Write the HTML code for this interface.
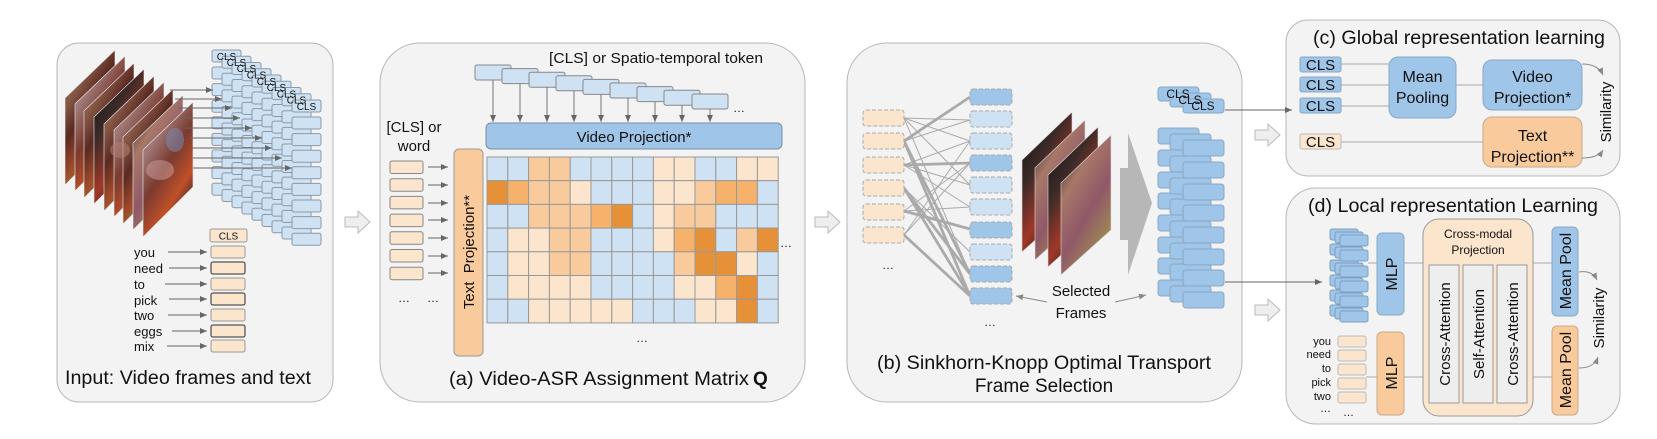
<!DOCTYPE html>
<html><head><meta charset="utf-8"><style>
html,body{margin:0;padding:0;background:#fff}
svg{display:block}
text{font-family:"Liberation Sans",Arial,sans-serif;fill:#111}
</style></head><body>
<svg width="1657" height="439" viewBox="0 0 1657 439" xmlns="http://www.w3.org/2000/svg">
<defs>
<marker id="ah" markerWidth="8" markerHeight="8" refX="7" refY="3" orient="auto" markerUnits="userSpaceOnUse"><path d="M0,0 L7,3 L0,6 z" fill="#666"/></marker>
<marker id="ah2" markerWidth="8" markerHeight="8" refX="7" refY="3" orient="auto" markerUnits="userSpaceOnUse"><path d="M0,0 L7,3 L0,6 z" fill="#888"/></marker>
<linearGradient id="f1" x1="0" y1="0" x2="0.6" y2="1"><stop offset="0" stop-color="#4a3028"/><stop offset=".3" stop-color="#8a5a48"/><stop offset=".5" stop-color="#5a2a22"/><stop offset=".7" stop-color="#a04a2a"/><stop offset=".85" stop-color="#8a7a30"/><stop offset="1" stop-color="#2a1a20"/></linearGradient>
<linearGradient id="f2" x1="0" y1="0" x2="0.6" y2="1"><stop offset="0" stop-color="#6a7088"/><stop offset=".3" stop-color="#a07a78"/><stop offset=".55" stop-color="#7a3a30"/><stop offset=".8" stop-color="#c05028"/><stop offset="1" stop-color="#30202a"/></linearGradient>
<linearGradient id="f3" x1="0" y1="0" x2="0.6" y2="1"><stop offset="0" stop-color="#111"/><stop offset=".4" stop-color="#3a2a28"/><stop offset=".7" stop-color="#a03828"/><stop offset="1" stop-color="#201818"/></linearGradient>
<linearGradient id="f4" x1="0" y1="0" x2="0.6" y2="1"><stop offset="0" stop-color="#151515"/><stop offset=".35" stop-color="#a87868"/><stop offset=".65" stop-color="#905868"/><stop offset="1" stop-color="#a09050"/></linearGradient>
<g id="col">
<rect x="212" y="50" width="29" height="12" rx="2" fill="#cfe2f3" stroke="#8a99a8"/>
<rect x="212" y="67" width="29" height="12" rx="2" fill="#cfe2f3" stroke="#8a99a8"/>
<rect x="212" y="83.6" width="29" height="12" rx="2" fill="#cfe2f3" stroke="#8a99a8"/>
<rect x="212" y="100.2" width="29" height="12" rx="2" fill="#cfe2f3" stroke="#8a99a8"/>
<rect x="212" y="116.8" width="29" height="12" rx="2" fill="#cfe2f3" stroke="#8a99a8"/>
<rect x="212" y="133.4" width="29" height="12" rx="2" fill="#cfe2f3" stroke="#8a99a8"/>
<rect x="212" y="150" width="29" height="12" rx="2" fill="#cfe2f3" stroke="#8a99a8"/>
<rect x="212" y="166.6" width="29" height="12" rx="2" fill="#cfe2f3" stroke="#8a99a8"/>
<rect x="212" y="183.2" width="29" height="12" rx="2" fill="#cfe2f3" stroke="#8a99a8"/>
</g>
<g id="rcol">
<rect x="1158" y="128" width="41" height="16" rx="3" fill="#9fc5e8" stroke="#8aa8c4"/>
<rect x="1158" y="150" width="41" height="16" rx="3" fill="#9fc5e8" stroke="#8aa8c4"/>
<rect x="1158" y="172" width="41" height="16" rx="3" fill="#9fc5e8" stroke="#8aa8c4"/>
<rect x="1158" y="193" width="41" height="16" rx="3" fill="#9fc5e8" stroke="#8aa8c4"/>
<rect x="1158" y="215" width="41" height="16" rx="3" fill="#9fc5e8" stroke="#8aa8c4"/>
<rect x="1158" y="237" width="41" height="16" rx="3" fill="#9fc5e8" stroke="#8aa8c4"/>
<rect x="1158" y="258" width="41" height="16" rx="3" fill="#9fc5e8" stroke="#8aa8c4"/>
<rect x="1158" y="280" width="41" height="16" rx="3" fill="#9fc5e8" stroke="#8aa8c4"/>
</g>
<g id="scol">
<rect x="1330" y="229" width="28" height="11" rx="2" fill="#9fc5e8" stroke="#7f9fbf"/>
<rect x="1330" y="244" width="28" height="11" rx="2" fill="#9fc5e8" stroke="#7f9fbf"/>
<rect x="1330" y="260" width="28" height="11" rx="2" fill="#9fc5e8" stroke="#7f9fbf"/>
<rect x="1330" y="275" width="28" height="11" rx="2" fill="#9fc5e8" stroke="#7f9fbf"/>
<rect x="1330" y="290" width="28" height="11" rx="2" fill="#9fc5e8" stroke="#7f9fbf"/>
<rect x="1330" y="305" width="28" height="11" rx="2" fill="#9fc5e8" stroke="#7f9fbf"/>
</g>
<g id="hollow"><path d="M0,-5 L13,-5 L13,-11 L25,0 L13,11 L13,5 L0,5 z" fill="#eee" stroke="#bbb"/></g>
</defs>

<rect x="57" y="43" width="276" height="359" rx="22" fill="#f3f3f3" stroke="#b7b7b7"/>
<rect x="380" y="43" width="425" height="359" rx="40" fill="#f3f3f3" stroke="#b7b7b7"/>
<rect x="847" y="43" width="395" height="359" rx="40" fill="#f3f3f3" stroke="#b7b7b7"/>
<rect x="1286" y="20" width="334" height="156" rx="22" fill="#f3f3f3" stroke="#b7b7b7"/>
<rect x="1286" y="188" width="334" height="236" rx="30" fill="#f3f3f3" stroke="#b7b7b7"/>

<use href="#hollow" x="345" y="222"/>
<use href="#hollow" x="815" y="222"/>
<use href="#hollow" x="1255" y="135"/>
<use href="#hollow" x="1255" y="310"/>

<g stroke="#eee" stroke-width="0.6">
<polygon points="65,98 115,50 115,135 65,185" fill="url(#f1)"/>
<polygon points="75,104 125,56 125,141 75,191" fill="url(#f2)"/>
<polygon points="84,111 134,63 134,148 84,198" fill="url(#f1)"/>
<polygon points="94,117 144,69 144,154 94,204" fill="url(#f3)"/>
<polygon points="104,124 154,76 154,161 104,211" fill="url(#f1)"/>
<polygon points="114,130 164,82 164,167 114,217" fill="url(#f2)"/>
<polygon points="123,137 173,89 173,174 123,224" fill="url(#f1)"/>
<polygon points="133,143 183,95 183,180 133,230" fill="url(#f4)"/>
<polygon points="143,150 193,102 193,187 143,237" fill="url(#f2)"/>
</g>
<g opacity="0.55">
<ellipse cx="160" cy="170" rx="14" ry="10" fill="#c89a98"/>
<ellipse cx="120" cy="150" rx="10" ry="8" fill="#b08070"/>
<ellipse cx="175" cy="140" rx="9" ry="12" fill="#7a8ab0"/>
</g>
<use href="#col"/>
<use href="#col" transform="translate(10,6.25)"/>
<use href="#col" transform="translate(20,12.5)"/>
<use href="#col" transform="translate(30,18.75)"/>
<use href="#col" transform="translate(40,25)"/>
<use href="#col" transform="translate(50,31.25)"/>
<use href="#col" transform="translate(60,37.5)"/>
<use href="#col" transform="translate(70,43.75)"/>
<use href="#col" transform="translate(80,50)"/>
<g font-size="10" text-anchor="middle">
<text x="226.5" y="60">CLS</text><text x="236.5" y="66">CLS</text><text x="246.5" y="72">CLS</text><text x="256.5" y="78.5">CLS</text><text x="266.5" y="85">CLS</text><text x="276.5" y="91">CLS</text><text x="286.5" y="97.5">CLS</text><text x="296.5" y="103.5">CLS</text><text x="306.5" y="110">CLS</text>
</g>
<g stroke="#666" stroke-width="1" marker-end="url(#ah)">
<line x1="170" y1="90" x2="213" y2="90"/>
<line x1="175" y1="99" x2="222" y2="99"/>
<line x1="178" y1="108" x2="232" y2="108"/>
<line x1="183" y1="118" x2="240" y2="118"/>
<line x1="185" y1="128" x2="252" y2="128"/>
<line x1="190" y1="138" x2="262" y2="138"/>
<line x1="192" y1="148" x2="272" y2="148"/>
<line x1="193" y1="158" x2="282" y2="158"/>
<line x1="193" y1="168" x2="292" y2="168"/>
</g>
<rect x="210" y="229" width="37" height="13" rx="2" fill="#fce5cd" stroke="#999"/>
<text x="228.5" y="239.5" font-size="10" text-anchor="middle">CLS</text>
<g fill="#fce5cd">
<rect x="211" y="246" width="34" height="12" rx="2" stroke="#999"/>
<rect x="211" y="262" width="34" height="12" rx="2" stroke="#555" stroke-width="1.3"/>
<rect x="211" y="278" width="34" height="12" rx="2" stroke="#999"/>
<rect x="211" y="293" width="34" height="12" rx="2" stroke="#555" stroke-width="1.3"/>
<rect x="211" y="309" width="34" height="12" rx="2" stroke="#999"/>
<rect x="211" y="325" width="34" height="12" rx="2" stroke="#555" stroke-width="1.3"/>
<rect x="211" y="340" width="34" height="12" rx="2" stroke="#999"/>
</g>
<g font-size="13">
<text x="134" y="257">you</text><text x="134" y="273">need</text><text x="134" y="289">to</text><text x="134" y="305">pick</text><text x="134" y="320">two</text><text x="134" y="336">eggs</text><text x="134" y="351">mix</text>
</g>
<g stroke="#666" marker-end="url(#ah)">
<line x1="168" y1="252" x2="207" y2="252"/><line x1="169" y1="268" x2="207" y2="268"/><line x1="165" y1="284" x2="207" y2="284"/><line x1="169" y1="299" x2="207" y2="299"/><line x1="168" y1="315" x2="207" y2="315"/><line x1="172" y1="331" x2="207" y2="331"/><line x1="167" y1="346" x2="207" y2="346"/>
</g>
<text x="65" y="384" font-size="19" textLength="246" lengthAdjust="spacingAndGlyphs">Input: Video frames and text</text>

<text x="549" y="63" font-size="15" textLength="214" lengthAdjust="spacingAndGlyphs">[CLS] or Spatio-temporal token</text>
<g fill="#cfe2f3" stroke="#888">
<rect x="475" y="65" width="36" height="15" rx="2"/>
<rect x="502" y="68.6" width="36" height="15" rx="2"/>
<rect x="529" y="72.2" width="36" height="15" rx="2"/>
<rect x="556" y="75.8" width="36" height="15" rx="2"/>
<rect x="583" y="79.4" width="36" height="15" rx="2"/>
<rect x="610" y="83" width="36" height="15" rx="2"/>
<rect x="637" y="86.6" width="36" height="15" rx="2"/>
<rect x="664" y="90.2" width="36" height="15" rx="2"/>
<rect x="692" y="94" width="36" height="15" rx="2"/>
</g>
<g stroke="#777" marker-end="url(#ah)">
<line x1="493" y1="80" x2="493" y2="122"/><line x1="520" y1="84" x2="520" y2="122"/><line x1="547" y1="87" x2="547" y2="122"/><line x1="574" y1="91" x2="574" y2="122"/><line x1="601" y1="94" x2="601" y2="122"/><line x1="628" y1="98" x2="628" y2="122"/><line x1="655" y1="102" x2="655" y2="122"/><line x1="682" y1="105" x2="682" y2="122"/><line x1="710" y1="109" x2="710" y2="122"/>
</g>
<text x="733" y="112" font-size="12">…</text>
<rect x="486" y="123" width="296" height="26" rx="5" fill="#9fc5e8" stroke="#7a8fa3"/>
<text x="634" y="142" font-size="15" text-anchor="middle">Video Projection*</text>
<text x="414" y="132" font-size="15" text-anchor="middle">[CLS] or</text>
<text x="414" y="151" font-size="15" text-anchor="middle">word</text>
<rect x="454" y="149" width="29" height="207" rx="5" fill="#f9cb9c" stroke="#999"/>
<text transform="translate(474,252) rotate(-90)" font-size="15" text-anchor="middle" xml:space="preserve">Text  Projection**</text>
<g fill="#fce5cd" stroke="#888">
<rect x="390" y="161" width="33" height="12.5" rx="2"/><rect x="390" y="178.7" width="33" height="12.5" rx="2"/><rect x="390" y="196.4" width="33" height="12.5" rx="2"/><rect x="390" y="214.1" width="33" height="12.5" rx="2"/><rect x="390" y="231.8" width="33" height="12.5" rx="2"/><rect x="390" y="249.5" width="33" height="12.5" rx="2"/><rect x="390" y="267.2" width="33" height="12.5" rx="2"/>
</g>
<g stroke="#666" marker-end="url(#ah)">
<line x1="428" y1="167" x2="448" y2="167"/><line x1="428" y1="185" x2="448" y2="185"/><line x1="428" y1="203" x2="448" y2="203"/><line x1="428" y1="220" x2="448" y2="220"/><line x1="428" y1="238" x2="448" y2="238"/><line x1="428" y1="256" x2="448" y2="256"/><line x1="428" y1="273" x2="448" y2="273"/>
</g>
<text x="398" y="302" font-size="12">…</text><text x="427" y="302" font-size="12">…</text>
<g stroke="#999" stroke-width="1">
<rect x="487" y="157" width="20.8" height="23.7" fill="#cfe2f3"/><rect x="507.8" y="157" width="20.8" height="23.7" fill="#cfe2f3"/><rect x="528.6" y="157" width="20.8" height="23.7" fill="#f9cb9c"/><rect x="549.4" y="157" width="20.8" height="23.7" fill="#f9cb9c"/><rect x="570.2" y="157" width="20.8" height="23.7" fill="#cfe2f3"/><rect x="591" y="157" width="20.8" height="23.7" fill="#cfe2f3"/><rect x="611.8" y="157" width="20.8" height="23.7" fill="#cfe2f3"/><rect x="632.6" y="157" width="20.8" height="23.7" fill="#cfe2f3"/><rect x="653.4" y="157" width="20.8" height="23.7" fill="#fce5cd"/><rect x="674.2" y="157" width="20.8" height="23.7" fill="#fce5cd"/><rect x="695" y="157" width="20.8" height="23.7" fill="#cfe2f3"/><rect x="715.8" y="157" width="20.8" height="23.7" fill="#cfe2f3"/><rect x="736.6" y="157" width="20.8" height="23.7" fill="#fce5cd"/><rect x="757.4" y="157" width="20.8" height="23.7" fill="#fce5cd"/>
<rect x="487" y="180.7" width="20.8" height="23.7" fill="#e69138"/><rect x="507.8" y="180.7" width="20.8" height="23.7" fill="#f6b26b"/><rect x="528.6" y="180.7" width="20.8" height="23.7" fill="#f9cb9c"/><rect x="549.4" y="180.7" width="20.8" height="23.7" fill="#f9cb9c"/><rect x="570.2" y="180.7" width="20.8" height="23.7" fill="#fce5cd"/><rect x="591" y="180.7" width="20.8" height="23.7" fill="#cfe2f3"/><rect x="611.8" y="180.7" width="20.8" height="23.7" fill="#cfe2f3"/><rect x="632.6" y="180.7" width="20.8" height="23.7" fill="#cfe2f3"/><rect x="653.4" y="180.7" width="20.8" height="23.7" fill="#fce5cd"/><rect x="674.2" y="180.7" width="20.8" height="23.7" fill="#fce5cd"/><rect x="695" y="180.7" width="20.8" height="23.7" fill="#f9cb9c"/><rect x="715.8" y="180.7" width="20.8" height="23.7" fill="#f6b26b"/><rect x="736.6" y="180.7" width="20.8" height="23.7" fill="#f6b26b"/><rect x="757.4" y="180.7" width="20.8" height="23.7" fill="#cfe2f3"/>
<rect x="487" y="204.4" width="20.8" height="23.7" fill="#cfe2f3"/><rect x="507.8" y="204.4" width="20.8" height="23.7" fill="#cfe2f3"/><rect x="528.6" y="204.4" width="20.8" height="23.7" fill="#f9cb9c"/><rect x="549.4" y="204.4" width="20.8" height="23.7" fill="#f9cb9c"/><rect x="570.2" y="204.4" width="20.8" height="23.7" fill="#f9cb9c"/><rect x="591" y="204.4" width="20.8" height="23.7" fill="#f6b26b"/><rect x="611.8" y="204.4" width="20.8" height="23.7" fill="#e69138"/><rect x="632.6" y="204.4" width="20.8" height="23.7" fill="#cfe2f3"/><rect x="653.4" y="204.4" width="20.8" height="23.7" fill="#fce5cd"/><rect x="674.2" y="204.4" width="20.8" height="23.7" fill="#f9cb9c"/><rect x="695" y="204.4" width="20.8" height="23.7" fill="#f9cb9c"/><rect x="715.8" y="204.4" width="20.8" height="23.7" fill="#cfe2f3"/><rect x="736.6" y="204.4" width="20.8" height="23.7" fill="#cfe2f3"/><rect x="757.4" y="204.4" width="20.8" height="23.7" fill="#cfe2f3"/>
<rect x="487" y="228.1" width="20.8" height="23.7" fill="#cfe2f3"/><rect x="507.8" y="228.1" width="20.8" height="23.7" fill="#fce5cd"/><rect x="528.6" y="228.1" width="20.8" height="23.7" fill="#fce5cd"/><rect x="549.4" y="228.1" width="20.8" height="23.7" fill="#f9cb9c"/><rect x="570.2" y="228.1" width="20.8" height="23.7" fill="#f9cb9c"/><rect x="591" y="228.1" width="20.8" height="23.7" fill="#cfe2f3"/><rect x="611.8" y="228.1" width="20.8" height="23.7" fill="#cfe2f3"/><rect x="632.6" y="228.1" width="20.8" height="23.7" fill="#cfe2f3"/><rect x="653.4" y="228.1" width="20.8" height="23.7" fill="#fce5cd"/><rect x="674.2" y="228.1" width="20.8" height="23.7" fill="#f6b26b"/><rect x="695" y="228.1" width="20.8" height="23.7" fill="#e69138"/><rect x="715.8" y="228.1" width="20.8" height="23.7" fill="#cfe2f3"/><rect x="736.6" y="228.1" width="20.8" height="23.7" fill="#f9cb9c"/><rect x="757.4" y="228.1" width="20.8" height="23.7" fill="#e69138"/>
<rect x="487" y="251.8" width="20.8" height="23.7" fill="#cfe2f3"/><rect x="507.8" y="251.8" width="20.8" height="23.7" fill="#fce5cd"/><rect x="528.6" y="251.8" width="20.8" height="23.7" fill="#fce5cd"/><rect x="549.4" y="251.8" width="20.8" height="23.7" fill="#f9cb9c"/><rect x="570.2" y="251.8" width="20.8" height="23.7" fill="#f9cb9c"/><rect x="591" y="251.8" width="20.8" height="23.7" fill="#cfe2f3"/><rect x="611.8" y="251.8" width="20.8" height="23.7" fill="#cfe2f3"/><rect x="632.6" y="251.8" width="20.8" height="23.7" fill="#cfe2f3"/><rect x="653.4" y="251.8" width="20.8" height="23.7" fill="#cfe2f3"/><rect x="674.2" y="251.8" width="20.8" height="23.7" fill="#f9cb9c"/><rect x="695" y="251.8" width="20.8" height="23.7" fill="#e69138"/><rect x="715.8" y="251.8" width="20.8" height="23.7" fill="#e69138"/><rect x="736.6" y="251.8" width="20.8" height="23.7" fill="#fce5cd"/><rect x="757.4" y="251.8" width="20.8" height="23.7" fill="#cfe2f3"/>
<rect x="487" y="275.5" width="20.8" height="23.7" fill="#cfe2f3"/><rect x="507.8" y="275.5" width="20.8" height="23.7" fill="#fce5cd"/><rect x="528.6" y="275.5" width="20.8" height="23.7" fill="#fce5cd"/><rect x="549.4" y="275.5" width="20.8" height="23.7" fill="#fce5cd"/><rect x="570.2" y="275.5" width="20.8" height="23.7" fill="#fce5cd"/><rect x="591" y="275.5" width="20.8" height="23.7" fill="#cfe2f3"/><rect x="611.8" y="275.5" width="20.8" height="23.7" fill="#cfe2f3"/><rect x="632.6" y="275.5" width="20.8" height="23.7" fill="#cfe2f3"/><rect x="653.4" y="275.5" width="20.8" height="23.7" fill="#cfe2f3"/><rect x="674.2" y="275.5" width="20.8" height="23.7" fill="#fce5cd"/><rect x="695" y="275.5" width="20.8" height="23.7" fill="#fce5cd"/><rect x="715.8" y="275.5" width="20.8" height="23.7" fill="#f6b26b"/><rect x="736.6" y="275.5" width="20.8" height="23.7" fill="#e69138"/><rect x="757.4" y="275.5" width="20.8" height="23.7" fill="#cfe2f3"/>
<rect x="487" y="299.2" width="20.8" height="23.7" fill="#cfe2f3"/><rect x="507.8" y="299.2" width="20.8" height="23.7" fill="#cfe2f3"/><rect x="528.6" y="299.2" width="20.8" height="23.7" fill="#fce5cd"/><rect x="549.4" y="299.2" width="20.8" height="23.7" fill="#fce5cd"/><rect x="570.2" y="299.2" width="20.8" height="23.7" fill="#fce5cd"/><rect x="591" y="299.2" width="20.8" height="23.7" fill="#fce5cd"/><rect x="611.8" y="299.2" width="20.8" height="23.7" fill="#fce5cd"/><rect x="632.6" y="299.2" width="20.8" height="23.7" fill="#cfe2f3"/><rect x="653.4" y="299.2" width="20.8" height="23.7" fill="#cfe2f3"/><rect x="674.2" y="299.2" width="20.8" height="23.7" fill="#cfe2f3"/><rect x="695" y="299.2" width="20.8" height="23.7" fill="#fce5cd"/><rect x="715.8" y="299.2" width="20.8" height="23.7" fill="#fce5cd"/><rect x="736.6" y="299.2" width="20.8" height="23.7" fill="#e69138"/><rect x="757.4" y="299.2" width="20.8" height="23.7" fill="#cfe2f3"/>
</g>
<text x="780" y="247" font-size="12">…</text>
<text x="636" y="342" font-size="12">…</text>
<text x="449" y="385" font-size="19" textLength="300" lengthAdjust="spacingAndGlyphs">(a) Video-ASR Assignment Matrix</text>
<text x="753" y="385" font-size="19" font-weight="bold" font-family="Liberation Serif">Q</text>

<g stroke="#aaa" stroke-width="1">
<line x1="904" y1="118" x2="970" y2="120"/><line x1="904" y1="118" x2="970" y2="141"/><line x1="904" y1="118" x2="970" y2="185"/><line x1="904" y1="118" x2="970" y2="274"/>
<line x1="904" y1="141" x2="970" y2="120"/>
<line x1="904" y1="165" x2="970" y2="141"/><line x1="904" y1="165" x2="970" y2="185"/><line x1="904" y1="165" x2="970" y2="207"/>
<line x1="904" y1="188" x2="970" y2="252"/>
<line x1="904" y1="211" x2="970" y2="207"/><line x1="904" y1="211" x2="970" y2="163"/>
<line x1="904" y1="235" x2="970" y2="163"/><line x1="904" y1="235" x2="970" y2="141"/>
</g>
<g stroke="#aaa" stroke-width="2.8">
<line x1="904" y1="141" x2="970" y2="97"/><line x1="904" y1="141" x2="970" y2="274"/><line x1="904" y1="141" x2="970" y2="296"/>
<line x1="904" y1="165" x2="970" y2="163"/>
<line x1="904" y1="188" x2="970" y2="296"/><line x1="904" y1="188" x2="970" y2="274"/>
<line x1="904" y1="211" x2="970" y2="229"/>
<line x1="904" y1="235" x2="970" y2="296"/>
</g>
<g stroke="#aaa" stroke-dasharray="4,2" fill="#fce5cd">
<rect x="863" y="110" width="41" height="16" rx="3"/><rect x="863" y="133" width="41" height="16" rx="3"/><rect x="863" y="157" width="41" height="16" rx="3"/><rect x="863" y="180" width="41" height="16" rx="3"/><rect x="863" y="204" width="41" height="16" rx="3"/><rect x="863" y="227" width="41" height="16" rx="3"/>
</g>
<g stroke="#aaa" stroke-dasharray="4,2">
<rect x="970" y="89" width="42" height="16" rx="3" fill="#9fc5e8"/><rect x="970" y="111" width="42" height="16" rx="3" fill="#cfe2f3"/><rect x="970" y="133" width="42" height="16" rx="3" fill="#cfe2f3"/><rect x="970" y="155" width="42" height="16" rx="3" fill="#9fc5e8"/><rect x="970" y="177" width="42" height="16" rx="3" fill="#cfe2f3"/><rect x="970" y="199" width="42" height="16" rx="3" fill="#cfe2f3"/><rect x="970" y="222" width="42" height="16" rx="3" fill="#9fc5e8"/><rect x="970" y="244" width="42" height="16" rx="3" fill="#cfe2f3"/><rect x="970" y="266" width="42" height="16" rx="3" fill="#9fc5e8"/><rect x="970" y="288" width="42" height="16" rx="3" fill="#9fc5e8"/>
</g>
<text x="882" y="269" font-size="12">…</text>
<text x="984" y="326" font-size="12">…</text>
<g stroke="#ddd" stroke-width="0.6">
<polygon points="1022,160 1072,112 1072,207 1022,252" fill="url(#f3)"/>
<polygon points="1035,168 1085,120 1085,215 1035,260" fill="url(#f4)"/>
<polygon points="1048,175 1098,127 1098,222 1048,267" fill="url(#f3)"/>
<polygon points="1061,183 1111,135 1111,230 1061,275" fill="url(#f4)"/>
</g>
<polygon points="1120,168 1128,168 1128,133 1152,203 1128,275 1128,240 1120,240" fill="#b7b7b7"/>
<text x="1081" y="296" font-size="15" text-anchor="middle">Selected</text>
<text x="1081" y="318" font-size="15" text-anchor="middle">Frames</text>
<line x1="1047" y1="302" x2="1016" y2="296" stroke="#888" marker-end="url(#ah2)"/>
<line x1="1115" y1="302" x2="1146" y2="295" stroke="#888" marker-end="url(#ah2)"/>
<text x="877" y="369" font-size="19" textLength="334" lengthAdjust="spacingAndGlyphs">(b) Sinkhorn-Knopp Optimal Transport</text>
<text x="1044" y="392" font-size="19" text-anchor="middle">Frame Selection</text>
<g fill="#9fc5e8" stroke="#8aa8c4">
<rect x="1158" y="87" width="41" height="14" rx="3"/><rect x="1170" y="93" width="41" height="14" rx="3"/><rect x="1183" y="99" width="41" height="14" rx="3"/>
</g>
<g font-size="12" text-anchor="middle"><text x="1178" y="98">CLS</text><text x="1190" y="104">CLS</text><text x="1203" y="110">CLS</text></g>
<use href="#rcol"/>
<use href="#rcol" transform="translate(12,6)"/>
<use href="#rcol" transform="translate(25,12)"/>
<line x1="1225" y1="110" x2="1292" y2="110" stroke="#666" marker-end="url(#ah)"/>
<line x1="1225" y1="282" x2="1322" y2="282" stroke="#666" marker-end="url(#ah)"/>

<text x="1313" y="44" font-size="19" textLength="292" lengthAdjust="spacingAndGlyphs">(c) Global representation learning</text>
<g stroke="#aaa"><line x1="1341" y1="64" x2="1389" y2="64"/><line x1="1341" y1="85" x2="1389" y2="85"/><line x1="1341" y1="106" x2="1389" y2="106"/><line x1="1456" y1="85" x2="1483" y2="85"/><line x1="1341" y1="142" x2="1483" y2="142"/></g>
<g stroke="#8aa8c4" fill="#9fc5e8"><rect x="1300" y="57" width="41" height="15" rx="2"/><rect x="1300" y="77" width="41" height="15" rx="2"/><rect x="1300" y="98" width="41" height="15" rx="2"/></g>
<rect x="1300" y="134" width="41" height="15" rx="2" fill="#fce5cd" stroke="#bbb"/>
<g font-size="15" text-anchor="middle"><text x="1320.5" y="70">CLS</text><text x="1320.5" y="90">CLS</text><text x="1320.5" y="111">CLS</text><text x="1320.5" y="147">CLS</text></g>
<rect x="1389" y="57" width="67" height="61" rx="9" fill="#9fc5e8" stroke="#8aa8c4"/>
<text x="1422.5" y="82" font-size="16" text-anchor="middle">Mean</text>
<text x="1422.5" y="103" font-size="16" text-anchor="middle">Pooling</text>
<rect x="1483" y="60" width="99" height="50" rx="9" fill="#9fc5e8" stroke="#8aa8c4"/>
<text x="1532.5" y="82" font-size="16" text-anchor="middle">Video</text>
<text x="1532.5" y="103" font-size="16" text-anchor="middle">Projection*</text>
<rect x="1483" y="117" width="99" height="50" rx="9" fill="#f9cb9c" stroke="#c8a888"/>
<text x="1532.5" y="141" font-size="16" text-anchor="middle">Text</text>
<text x="1532.5" y="162" font-size="16" text-anchor="middle">Projection**</text>
<path d="M1582,64 Q1598,64 1603,75" fill="none" stroke="#888" marker-end="url(#ah2)"/>
<path d="M1582,158 Q1598,158 1603,150" fill="none" stroke="#888" marker-end="url(#ah2)"/>
<text transform="translate(1611,112) rotate(-90)" font-size="15" text-anchor="middle">Similarity</text>

<text x="1308" y="212" font-size="19" textLength="290" lengthAdjust="spacingAndGlyphs">(d) Local representation Learning</text>
<g stroke="#aaa"><line x1="1368" y1="263" x2="1378" y2="263"/><line x1="1404" y1="263" x2="1423" y2="263"/><line x1="1366" y1="377" x2="1378" y2="377"/><line x1="1404" y1="377" x2="1423" y2="377"/><line x1="1533" y1="263" x2="1552" y2="263"/><line x1="1533" y1="377" x2="1552" y2="377"/></g>
<use href="#scol"/>
<use href="#scol" transform="translate(5,3)"/>
<use href="#scol" transform="translate(10,6)"/>
<rect x="1377" y="233" width="27" height="82" rx="5" fill="#9fc5e8" stroke="#8aa8c4"/>
<text transform="translate(1397,274) rotate(-90)" font-size="16" text-anchor="middle">MLP</text>
<rect x="1377" y="332" width="27" height="83" rx="5" fill="#f9cb9c" stroke="#c8a888"/>
<text transform="translate(1397,373) rotate(-90)" font-size="16" text-anchor="middle">MLP</text>
<g font-size="11" text-anchor="end"><text x="1331" y="345">you</text><text x="1331" y="358">need</text><text x="1331" y="372">to</text><text x="1331" y="386">pick</text><text x="1331" y="400">two</text><text x="1331" y="412">…</text></g>
<g fill="#fce5cd" stroke="#bbb"><rect x="1338" y="336" width="28" height="11" rx="2"/><rect x="1338" y="350" width="28" height="11" rx="2"/><rect x="1338" y="364" width="28" height="11" rx="2"/><rect x="1338" y="378" width="28" height="11" rx="2"/><rect x="1338" y="392" width="28" height="11" rx="2"/></g>
<text x="1343" y="416" font-size="11">…</text>
<rect x="1423" y="219" width="110" height="197" rx="16" fill="#fce5cd" stroke="#999"/>
<text x="1478" y="238" font-size="12" text-anchor="middle">Cross-modal</text>
<text x="1478" y="254" font-size="12" text-anchor="middle">Projection</text>
<g fill="#eeeeee" stroke="#999"><rect x="1429" y="265" width="30" height="138"/><rect x="1463" y="265" width="30" height="138"/><rect x="1497" y="265" width="30" height="138"/></g>
<g font-size="15" text-anchor="middle">
<text transform="translate(1450,334) rotate(-90)">Cross-Attention</text>
<text transform="translate(1484,334) rotate(-90)">Self-Attention</text>
<text transform="translate(1518,334) rotate(-90)">Cross-Attention</text>
</g>
<rect x="1552" y="227" width="26" height="89" rx="5" fill="#9fc5e8" stroke="#8aa8c4"/>
<text transform="translate(1571,271) rotate(-90)" font-size="16" text-anchor="middle">Mean Pool</text>
<rect x="1552" y="326" width="26" height="89" rx="5" fill="#f9cb9c" stroke="#c8a888"/>
<text transform="translate(1571,370) rotate(-90)" font-size="16" text-anchor="middle">Mean Pool</text>
<path d="M1579,272 Q1592,270 1597,280" fill="none" stroke="#888" marker-end="url(#ah2)"/>
<path d="M1579,368 Q1594,368 1598,357" fill="none" stroke="#888" marker-end="url(#ah2)"/>
<text transform="translate(1604,318) rotate(-90)" font-size="15" text-anchor="middle">Similarity</text>
</svg>
</body></html>
